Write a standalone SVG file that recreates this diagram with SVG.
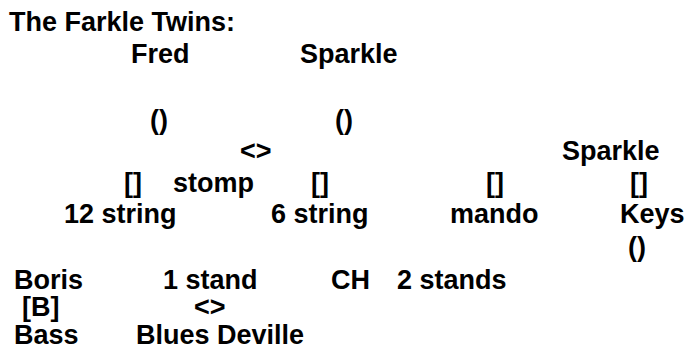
<svg xmlns="http://www.w3.org/2000/svg" width="691" height="354" viewBox="0 0 691 354">
<style>
text{font-family:"Liberation Sans",Arial,Helvetica,sans-serif;font-weight:bold;font-size:27px;fill:#000}
</style>
<rect width="691" height="354" fill="#fff"/>
<g id="title"><text x="9" y="31">The Farkle Twins:</text></g>
<g id="fred"><text x="131" y="63">Fred</text></g>
<g id="sparkle-top"><text x="300" y="63">Sparkle</text></g>
<g id="paren-fred"><text x="150" y="129">()</text></g>
<g id="paren-sparkle"><text x="335" y="129">()</text></g>
<g id="diamond-top"><text x="240" y="160">&lt;&gt;</text></g>
<g id="sparkle-right"><text x="562" y="160">Sparkle</text></g>
<g id="box-12"><text x="124" y="192">[]</text></g>
<g id="stomp"><text x="173" y="192">stomp</text></g>
<g id="box-6"><text x="311" y="192">[]</text></g>
<g id="box-mando"><text x="486" y="192">[]</text></g>
<g id="box-keys"><text x="630" y="192">[]</text></g>
<g id="twelve-string"><text x="64" y="223">12 string</text></g>
<g id="six-string"><text x="271" y="223">6 string</text></g>
<g id="mando"><text x="450" y="223">mando</text></g>
<g id="keys"><text x="620" y="223">Keys</text></g>
<g id="paren-keys"><text x="628" y="256">()</text></g>
<g id="boris"><text x="14" y="289">Boris</text></g>
<g id="one-stand"><text x="163" y="289">1 stand</text></g>
<g id="ch"><text x="331" y="289">CH</text></g>
<g id="two-stands"><text x="397" y="289">2 stands</text></g>
<g id="box-bass"><text x="22" y="316">[B]</text></g>
<g id="diamond-bottom"><text x="194" y="316">&lt;&gt;</text></g>
<g id="bass"><text x="14" y="344">Bass</text></g>
<g id="blues-deville"><text x="136" y="344">Blues Deville</text></g>
</svg>
